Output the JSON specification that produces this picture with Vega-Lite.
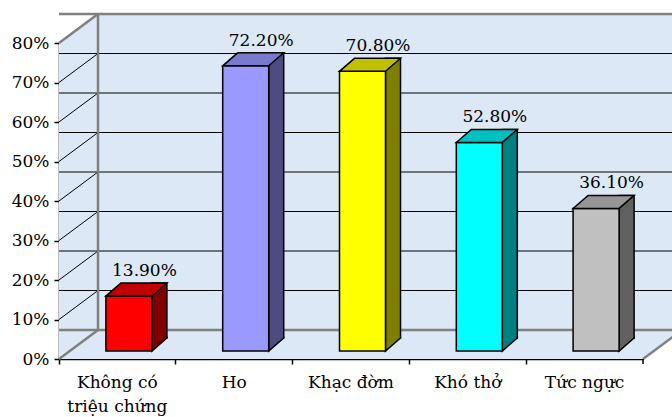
{
  "$schema": "https://vega.github.io/schema/vega-lite/v6.json",
  "width": 584,
  "height": 316,
  "autosize": {"type": "none"},
  "padding": {"left": 59, "top": 43, "right": 29, "bottom": 58},
  "background": "white",
  "config": {
    "view": {"stroke": null},
    "font": "DejaVu Serif",
    "axis": {"labelFont": "DejaVu Serif", "labelColor": "black", "labelFontSize": 17, "domainColor": "black", "tickColor": "black", "domainWidth": 1.5, "tickWidth": 1.5, "grid": false, "title": null, "zindex": 1, "labelOverlap": false}
  },
  "datasets": {
    "bars": [
      {"cat": "Không có triệu chứng", "value": 0.139},
      {"cat": "Ho", "value": 0.722},
      {"cat": "Khạc đờm", "value": 0.708},
      {"cat": "Khó thở", "value": 0.528},
      {"cat": "Tức ngực", "value": 0.361}
    ],
    "grid": [{"v": 0.1}, {"v": 0.2}, {"v": 0.3}, {"v": 0.4}, {"v": 0.5}, {"v": 0.6}, {"v": 0.7}],
    "frame": [{"v": 0}, {"v": 0.8}],
    "one": [{"k": 1}]
  },
  "layer": [
    {
      "data": {"name": "one"},
      "mark": {"type": "point", "shape": "M0,0L0,-316L39,-345L623,-345L623,-29L584,0Z", "size": 4, "filled": true, "fill": "#dce8f5", "strokeWidth": 0, "opacity": 1},
      "encoding": {
        "x": {"datum": "Không có triệu chứng", "type": "nominal", "bandPosition": 0,
          "scale": {"domain": ["Không có triệu chứng", "Ho", "Khạc đờm", "Khó thở", "Tức ngực"], "paddingInner": 0, "paddingOuter": 0},
          "axis": {"labelAngle": 0, "bandPosition": 0, "tickSize": 5, "labelPadding": 10, "labelLineHeight": 24,
            "labelExpr": "datum.value == 'Không có triệu chứng' ? ['Không có', 'triệu chứng'] : datum.label"}},
        "y": {"datum": 0, "type": "quantitative", "scale": {"domain": [0, 0.8], "nice": false}}
      }
    },
    {
      "data": {"name": "grid"},
      "mark": {"type": "point", "shape": "M0,0L39,-29", "size": 4, "filled": false, "stroke": "black", "strokeWidth": 1, "opacity": 1},
      "encoding": {
        "x": {"datum": "Không có triệu chứng", "type": "nominal", "bandPosition": 0},
        "y": {"field": "v", "type": "quantitative",
          "axis": {"values": [0, 0.1, 0.2, 0.3, 0.4, 0.5, 0.6, 0.7, 0.8], "tickCount": 12, "format": ".0%", "labelOverlap": false, "tickSize": 5, "labelPadding": 5}}
      }
    },
    {
      "data": {"name": "grid"},
      "mark": {"type": "rule", "color": "black", "strokeWidth": 1, "xOffset": 39, "yOffset": -29},
      "encoding": {"y": {"field": "v", "type": "quantitative"}}
    },
    {
      "data": {"name": "frame"},
      "mark": {"type": "rule", "color": "#808080", "strokeWidth": 2.5, "xOffset": 39, "yOffset": -29},
      "encoding": {"y": {"field": "v", "type": "quantitative"}}
    },
    {
      "data": {"name": "frame"},
      "mark": {"type": "point", "shape": "M0,0L39,-29", "size": 4, "filled": false, "stroke": "#808080", "strokeWidth": 2.5, "opacity": 1},
      "encoding": {
        "x": {"datum": "Không có triệu chứng", "type": "nominal", "bandPosition": 0},
        "y": {"field": "v", "type": "quantitative"}
      }
    },
    {
      "data": {"name": "one"},
      "mark": {"type": "rule", "color": "#808080", "strokeWidth": 2.5, "xOffset": 39, "yOffset": -29, "y2Offset": -29},
      "encoding": {
        "x": {"datum": "Không có triệu chứng", "type": "nominal", "bandPosition": 0},
        "y": {"datum": 0, "type": "quantitative"},
        "y2": {"datum": 0.8}
      }
    },
    {
      "data": {"name": "one"},
      "mark": {"type": "point", "shape": "M0,0L39,-29", "size": 4, "filled": false, "stroke": "#808080", "strokeWidth": 2.5, "opacity": 1},
      "encoding": {
        "x": {"datum": "Tức ngực", "type": "nominal", "bandPosition": 1},
        "y": {"datum": 0, "type": "quantitative"}
      }
    },
    {
      "data": {"name": "one"},
      "mark": {"type": "point", "shape": "M0,0L0,5", "size": 4, "filled": false, "stroke": "black", "strokeWidth": 1.5, "opacity": 1},
      "encoding": {
        "x": {"datum": "Tức ngực", "type": "nominal", "bandPosition": 1},
        "y": {"datum": 0, "type": "quantitative"}
      }
    },
    {
      "data": {"name": "bars"},
      "mark": {"type": "bar", "width": 15, "xOffset": 42, "yOffset": -21, "y2Offset": -21, "stroke": "black", "strokeWidth": 1.5},
      "encoding": {
        "x": {"field": "cat", "type": "nominal"},
        "y": {"field": "value", "type": "quantitative"},
        "y2": {"datum": 0},
        "fill": {"field": "cat", "type": "nominal", "legend": null,
          "scale": {"domain": ["Không có triệu chứng", "Ho", "Khạc đờm", "Khó thở", "Tức ngực"], "range": ["#800000", "#4c4c80", "#808000", "#008080", "#606060"]}}
      }
    },
    {
      "data": {"name": "bars"},
      "mark": {"type": "point", "shape": "M34.5,-22.5L34.5,-8L49.5,-21L49.5,-22.5", "size": 4, "filled": true, "stroke": "black", "strokeWidth": 1.5, "opacity": 1},
      "encoding": {
        "x": {"field": "cat", "type": "nominal"},
        "y": {"datum": 0, "type": "quantitative"},
        "fill": {"field": "cat", "type": "nominal", "legend": null,
          "scale": {"domain": ["Không có triệu chứng", "Ho", "Khạc đờm", "Khó thở", "Tức ngực"], "range": ["#800000", "#4c4c80", "#808000", "#008080", "#606060"]}}
      }
    },
    {
      "data": {"name": "bars"},
      "mark": {"type": "bar", "width": 46, "xOffset": 11.5, "yOffset": -8, "y2Offset": -8, "stroke": "black", "strokeWidth": 1.5},
      "encoding": {
        "x": {"field": "cat", "type": "nominal"},
        "y": {"field": "value", "type": "quantitative"},
        "y2": {"datum": 0},
        "fill": {"field": "cat", "type": "nominal", "legend": null,
          "scale": {"domain": ["Không có triệu chứng", "Ho", "Khạc đờm", "Khó thở", "Tức ngực"], "range": ["#ff0000", "#9999ff", "#ffff00", "#00ffff", "#c0c0c0"]}}
      }
    },
    {
      "data": {"name": "bars"},
      "mark": {"type": "point", "shape": "M-11.5,-8L34.5,-8L49.5,-21L3.5,-21Z", "size": 4, "filled": true, "stroke": "black", "strokeWidth": 1.5, "opacity": 1},
      "encoding": {
        "x": {"field": "cat", "type": "nominal"},
        "y": {"field": "value", "type": "quantitative"},
        "fill": {"field": "cat", "type": "nominal", "legend": null,
          "scale": {"domain": ["Không có triệu chứng", "Ho", "Khạc đờm", "Khó thở", "Tức ngực"], "range": ["#c00000", "#7a7acc", "#c0c000", "#00c0c0", "#969696"]}}
      }
    },
    {
      "data": {"name": "bars"},
      "mark": {"type": "text", "xOffset": 27, "yOffset": -28, "baseline": "alphabetic", "align": "center", "fontSize": 17, "font": "DejaVu Serif", "color": "black"},
      "encoding": {
        "x": {"field": "cat", "type": "nominal"},
        "y": {"field": "value", "type": "quantitative"},
        "text": {"field": "value", "type": "quantitative", "format": ".2%"}
      }
    }
  ],
  "resolve": {"scale": {"fill": "independent"}}
}
